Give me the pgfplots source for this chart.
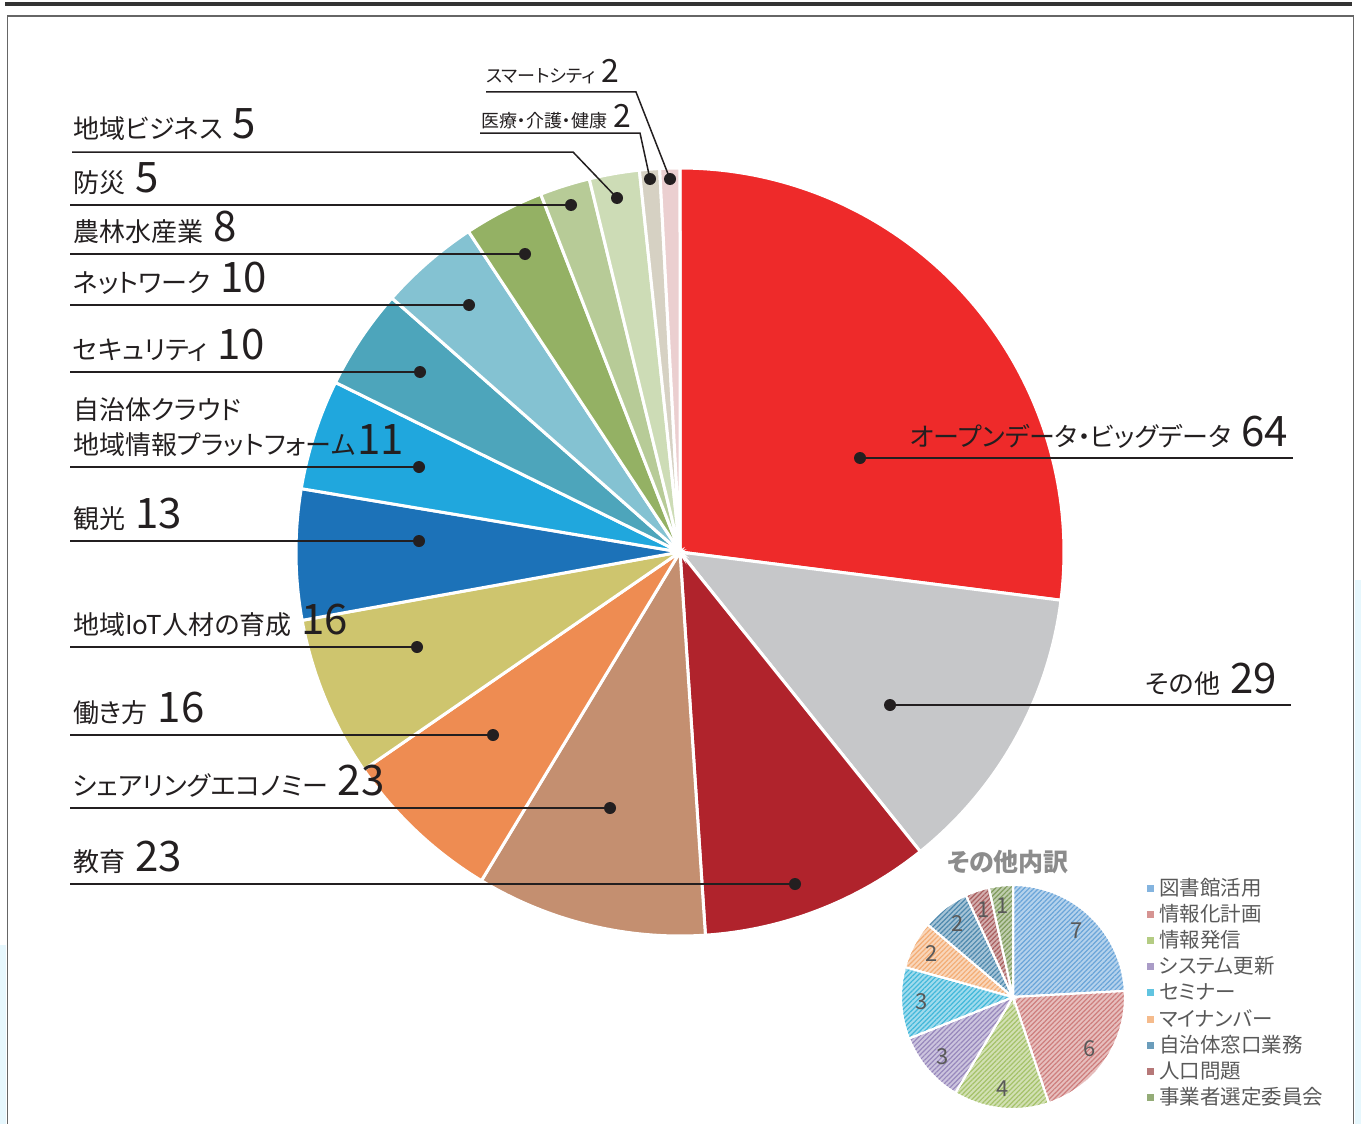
\documentclass[border=0pt]{standalone}
\usepackage{pgfplots}
\pgfplotsset{compat=1.18}
\usepackage{fontspec}
\setmainfont{Noto Sans CJK JP}[RawFeature=+palt]
\usetikzlibrary{patterns.meta}

\definecolor{txt}{HTML}{231F20}
\definecolor{lblgray}{HTML}{595959}
\definecolor{ttlgray}{HTML}{8C8C8C}
% main pie colours
\definecolor{cA}{HTML}{EE2A2A}
\definecolor{cB}{HTML}{C6C7C9}
\definecolor{cC}{HTML}{B0232C}
\definecolor{cD}{HTML}{C48F70}
\definecolor{cE}{HTML}{EE8C52}
\definecolor{cF}{HTML}{CEC56E}
\definecolor{cG}{HTML}{1C72B8}
\definecolor{cH}{HTML}{20A7DD}
\definecolor{cI}{HTML}{4DA5BB}
\definecolor{cJ}{HTML}{84C2D2}
\definecolor{cK}{HTML}{94B164}
\definecolor{cL}{HTML}{B7CB97}
\definecolor{cM}{HTML}{CDDCB6}
\definecolor{cN}{HTML}{D6D1C3}
\definecolor{cO}{HTML}{EBCFD0}
% small pie colours
\definecolor{sA}{HTML}{5B9BD5}
\definecolor{sB}{HTML}{C9706E}
\definecolor{sC}{HTML}{9BBB59}
\definecolor{sD}{HTML}{8D7BB5}
\definecolor{sE}{HTML}{2DB0D6}
\definecolor{sF}{HTML}{F2A466}
\definecolor{sG}{HTML}{3A7CA5}
\definecolor{sH}{HTML}{9E4B4B}
\definecolor{sI}{HTML}{71904A}

\tikzset{
  pielbl/.style={font=\fontsize{22}{22}\selectfont, text=lblgray, inner sep=0pt},
  leader/.style={draw=txt, line width=1.5pt},
  mainsl/.style={draw=white, line width=3pt},
}

\newcommand\piecum{0}
% #1 value, #2 total, #3 cx, #4 cy, #5 r, #6 style, #7 label radius (0 = none)
\newcommand\pieslice[7]{%
  \pgfmathsetmacro\angA{90-\piecum*(360/#2)}%
  \pgfmathsetmacro\newcum{\piecum+#1}%
  \pgfmathsetmacro\angB{90-\newcum*(360/#2)}%
  \xdef\piecum{\newcum}%
  \edef\doplot{\noexpand\addplot[#6, domain=\angB:\angA, samples=90] ({#3+#5*cos(x)},{#4-#5*sin(x)}) -- (axis cs:#3,#4) -- cycle;}%
  \doplot
  \ifdim #7pt>0pt
    \pgfmathsetmacro\angM{(\angA+\angB)/2}%
    \pgfmathsetmacro\lx{#3+#7*cos(\angM)}%
    \pgfmathsetmacro\ly{#4-#7*sin(\angM)}%
    \edef\donode{\noexpand\node[pielbl] at (axis cs:\lx,\ly) {#1};}%
    \donode
  \fi
}
\newcommand\smallsl[2]{\pieslice{#1}{29}{1013}{997}{112}{draw=white, line width=2pt, preaction={fill=#2!45!white}, pattern={Lines[angle=45,distance=3.4pt,line width=1.2pt]}, pattern color=#2!90!white}{92}}
\newcommand\mainsl[2]{\pieslice{#1}{237}{680}{552}{384}{mainsl, fill=#2}{0}}

\newcommand\lblfont{\fontsize{26}{28}\selectfont}
\newcommand\numfont{\fontsize{42}{42}\selectfont}
% left labels: line y, dot x, text, number, baseline y
\newcommand\leftlab[5]{%
  \draw[leader] (axis cs:70,#1) -- (axis cs:#2,#1);
  \fill[txt] (axis cs:#2,#1) circle[radius=6pt];
  \node[anchor=base west, inner sep=0pt, text=txt] at (axis cs:73,#5) {\lblfont #3\hspace{10pt}\numfont #4};
}
\newcommand\legrow[3]{% y, colour, text
  \fill[#2!75!white] (axis cs:1146.5,#1-3.5) rectangle (axis cs:1153.5,#1+3.5);
  \node[anchor=west, inner sep=0pt, text=lblgray] at (axis cs:1159,#1) {\fontsize{20.5}{21}\selectfont #3};
}

\begin{document}
\begin{tikzpicture}
\useasboundingbox (0,0) rectangle (1361pt,1124pt);
\begin{axis}[scale only axis, width=1361pt, height=1124pt,
  xmin=0, xmax=1361, ymin=0, ymax=1124, y dir=reverse,
  hide axis, clip=false]

% background decoration and frame
\fill[cyan!10!white] (axis cs:1355,580) rectangle (axis cs:1361,1124);
\fill[cyan!10!white] (axis cs:0,945) rectangle (axis cs:6,1124);
\draw[line width=3.5pt, draw=black!80] (axis cs:5,4) -- (axis cs:1352,4);
\draw[line width=1.6pt, draw=black!60] (axis cs:7.5,1124) -- (axis cs:7.5,16) -- (axis cs:1353.5,16) -- (axis cs:1353.5,1124);

% ---------------- main pie (total 237) ----------------
\xdef\piecum{0}
\mainsl{64}{cA}  % オープンデータ・ビッグデータ
\mainsl{29}{cB}  % その他
\mainsl{23}{cC}  % 教育
\mainsl{23}{cD}  % シェアリングエコノミー
\mainsl{16}{cE}  % 働き方
\mainsl{16}{cF}  % 地域IoT人材の育成
\mainsl{13}{cG}  % 観光
\mainsl{11}{cH}  % 自治体クラウド
\mainsl{10}{cI}  % セキュリティ
\mainsl{10}{cJ}  % ネットワーク
\mainsl{8}{cK}   % 農林水産業
\mainsl{5}{cL}   % 防災
\mainsl{5}{cM}   % 地域ビジネス
\mainsl{2}{cN}   % 医療・介護・健康
\mainsl{2}{cO}   % スマートシティ

% ---------------- labels ----------------
% 地域ビジネス
\draw[leader] (axis cs:72,152) -- (axis cs:573,152) -- (axis cs:617,198);
\fill[txt] (axis cs:617,198) circle[radius=6pt];
\node[anchor=base west, inner sep=0pt, text=txt] at (axis cs:73,139) {\lblfont 地域ビジネス\hspace{10pt}\numfont 5};
\leftlab{205}{571}{防災}{5}{192}
\leftlab{254}{525}{農林水産業}{8}{241}
\leftlab{305}{469}{ネットワーク}{10}{292}
\leftlab{372}{420}{セキュリティ}{10}{359}
\node[anchor=base west, inner sep=0pt, text=txt] at (axis cs:73,419) {\lblfont 自治体クラウド};
\leftlab{467}{419}{地域情報プラットフォーム}{\hspace{-8pt}11}{454}
\leftlab{541}{419}{観光}{13}{528}
\leftlab{647}{417}{地域IoT人材の育成}{16}{634}
\leftlab{735}{493}{働き方}{16}{722}
\leftlab{808}{610}{シェアリングエコノミー}{23}{795}
\leftlab{884}{795}{教育}{23}{871}

% top small labels
\draw[leader] (axis cs:486,92) -- (axis cs:636,92) -- (axis cs:670,179);
\fill[txt] (axis cs:670,179) circle[radius=6pt];
\node[anchor=base west, inner sep=0pt, text=txt] at (axis cs:486,83) {\fontsize{18}{18}\selectfont スマートシティ\hspace{6pt}\fontsize{32}{32}\selectfont 2};
\draw[leader] (axis cs:480,133) -- (axis cs:640,133) -- (axis cs:650,179);
\fill[txt] (axis cs:650,179) circle[radius=6pt];
\node[anchor=base west, inner sep=0pt, text=txt] at (axis cs:481,127) {\fontsize{18}{18}\selectfont 医療・介護・健康\hspace{6pt}\fontsize{32}{32}\selectfont 2};

% right labels
\draw[leader] (axis cs:860,458) -- (axis cs:1293,458);
\fill[txt] (axis cs:860,458) circle[radius=6pt];
\node[anchor=base east, inner sep=0pt, text=txt] at (axis cs:1288,446) {\lblfont オープンデータ・ビッグデータ\hspace{10pt}\numfont 64};
\draw[leader] (axis cs:890,705) -- (axis cs:1291,705);
\fill[txt] (axis cs:890,705) circle[radius=6pt];
\node[anchor=base east, inner sep=0pt, text=txt] at (axis cs:1277,693) {\lblfont その他\hspace{10pt}\numfont 29};

% ---------------- small pie: その他内訳 (total 29) ----------------
\node[text=ttlgray, inner sep=0pt] at (axis cs:1008,862) {\fontsize{25}{25}\selectfont\bfseries その他内訳};
\xdef\piecum{0}
\smallsl{7}{sA}
\smallsl{6}{sB}
\smallsl{4}{sC}
\smallsl{3}{sD}
\smallsl{3}{sE}
\smallsl{2}{sF}
\smallsl{2}{sG}
\smallsl{1}{sH}
\smallsl{1}{sI}

\legrow{888}{sA}{図書館活用}
\legrow{914}{sB}{情報化計画}
\legrow{940}{sC}{情報発信}
\legrow{966}{sD}{システム更新}
\legrow{992}{sE}{セミナー}
\legrow{1019}{sF}{マイナンバー}
\legrow{1045}{sG}{自治体窓口業務}
\legrow{1071}{sH}{人口問題}
\legrow{1097}{sI}{事業者選定委員会}
\end{axis}
\end{tikzpicture}
\end{document}
